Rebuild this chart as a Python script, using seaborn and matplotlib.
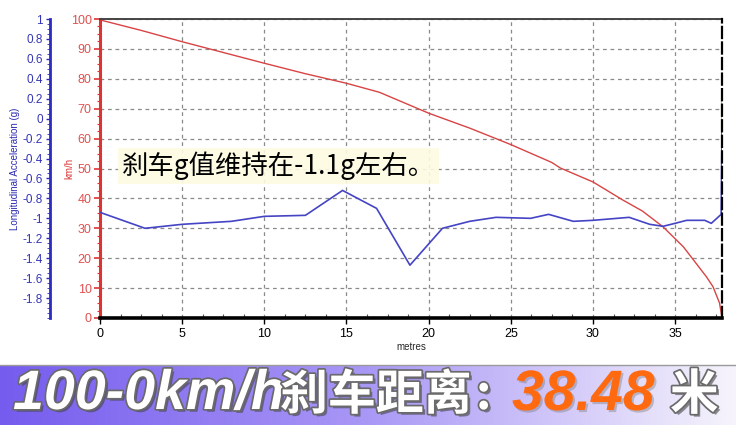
import numpy as np
import pandas as pd
import matplotlib
matplotlib.use("Agg")
import matplotlib.pyplot as plt
import matplotlib.patheffects as pe
from matplotlib.ticker import MultipleLocator, FixedLocator
import seaborn as sns

# ---------------- data ----------------
speed_dist = [0, 2.5, 5, 7.5, 10, 12.5, 15, 17, 20, 22.5, 25, 27.5, 28.0,
              30, 31.8, 33, 34.26, 35.5, 36.9, 37.3, 37.7, 37.85]
speed_kmh = [99.7, 96.2, 92.4, 88.8, 85.2, 81.7, 78.5, 75.5, 68.5, 63.5, 58.0,
             52.0, 50.2, 45.5, 39.5, 35.8, 30.5, 23.8, 13.8, 10.5, 5.0, 0.0]

accel_dist = [0, 2.74, 5, 8, 10, 12.5, 14.76, 16.83, 18.86, 20.84, 22.5, 24.1,
              26.2, 27.3, 28.8, 30, 32.2, 33.45, 34.26, 35, 35.7, 36.8, 37.2,
              37.8, 37.85]
accel_g = [-0.94, -1.10, -1.06, -1.03, -0.98, -0.97, -0.72, -0.90, -1.47, -1.10,
           -1.03, -0.99, -1.00, -0.96, -1.03, -1.02, -0.99, -1.06, -1.08, -1.05,
           -1.02, -1.02, -1.05, -0.96, -0.10]

aux_dist = [37.85, 37.85]
aux_g = [-0.10, 0.20]

x_ticks = [0, 5, 10, 15, 20, 25, 30, 35]
speed_ticks = [0, 10, 20, 30, 40, 50, 60, 70, 80, 90, 100]
accel_ticks = [1, 0.8, 0.6, 0.4, 0.2, 0, -0.2, -0.4, -0.6, -0.8, -1, -1.2,
               -1.4, -1.6, -1.8]

annotation = "刹车g值维持在-1.1g左右。"
banner_a = "100-0km/h"
banner_b = "刹车距离"
banner_c = ":"
banner_d = "38.48"
banner_e = "米"

# ---------------- style ----------------
sns.set_theme(style="white")
plt.rcParams["font.family"] = ["Liberation Sans", "Noto Sans CJK SC", "DejaVu Sans"]

W, H = 736, 425
fig = plt.figure(figsize=(W / 100, H / 100), dpi=100)
fig.patch.set_facecolor("white")

ax = fig.add_axes([100 / W, 1 - 318 / H, 622 / W, 299 / H])
ax2 = ax.twinx()

RED = "#dd3333"
BLUE = "#2b2bc0"
LINE_BLUE = "#4444c4"

df_speed = pd.DataFrame({"metres": speed_dist, "kmh": speed_kmh})
df_acc = pd.DataFrame({"metres": accel_dist, "g": accel_g})
df_aux = pd.DataFrame({"metres": aux_dist, "g": aux_g})

sns.lineplot(data=df_speed, x="metres", y="kmh", ax=ax, color="#d84444",
             linewidth=1.0, estimator=None, sort=False)
sns.lineplot(data=df_acc, x="metres", y="g", ax=ax2, color=LINE_BLUE,
             linewidth=1.2, estimator=None, sort=False)
sns.lineplot(data=df_aux, x="metres", y="g", ax=ax2, color="#b8d040",
             linewidth=1.5, estimator=None, sort=False)

# main axis (speed)
ax.set_xlim(0, 37.85)
ax.set_ylim(0, 100)
ax.xaxis.set_major_locator(FixedLocator(x_ticks))
ax.xaxis.set_minor_locator(MultipleLocator(1.25))
ax.yaxis.set_major_locator(FixedLocator(speed_ticks))
ax.yaxis.set_minor_locator(MultipleLocator(2.5))
ax.grid(True, which="major", color="#8a8a8a", linestyle=(0, (3, 3)), linewidth=0.9)
ax.tick_params(axis="x", which="major", direction="out", length=4, width=1,
               colors="black", labelsize=9, pad=3, bottom=True)
ax.tick_params(axis="x", which="minor", direction="in", length=3, width=0.8,
               colors="#555555", bottom=True)
ax.tick_params(axis="y", which="major", direction="out", length=4, width=1.2,
               colors=RED, labelsize=9, pad=2, left=True)
ax.tick_params(axis="y", which="minor", direction="out", length=2, width=0.8,
               colors=RED, left=True)
for lab in ax.get_yticklabels():
    lab.set_color("#e05050")
ax.set_xlabel("metres", fontsize=7, labelpad=2)
ax.set_ylabel("km/h", fontsize=7, color=RED)
ax.yaxis.set_label_coords(-0.042, 0.5)
ax.spines["left"].set_color(RED)
ax.spines["left"].set_linewidth(2.2)
ax.spines["bottom"].set_color("black")
ax.spines["bottom"].set_linewidth(2.6)
ax.spines["top"].set_color("#444444")
ax.spines["top"].set_linewidth(1.4)
ax.spines["right"].set_visible(False)

# acceleration axis, moved to the far left
ax2.set_ylim(-2, 1)
ax2.yaxis.tick_left()
ax2.yaxis.set_label_position("left")
ax2.spines["left"].set_position(("outward", 36))
ax2.spines["left"].set_visible(True)
ax2.spines["left"].set_color(BLUE)
ax2.spines["left"].set_linewidth(2.0)
ax2.spines["right"].set_color("black")
ax2.spines["right"].set_linewidth(1.6)
ax2.spines["right"].set_linestyle((0, (5, 2)))
ax2.spines["top"].set_visible(False)
ax2.spines["bottom"].set_visible(False)
ax2.yaxis.set_major_locator(FixedLocator(accel_ticks))
ax2.yaxis.set_minor_locator(MultipleLocator(0.05))
ax2.set_yticklabels([f"{t:g}" for t in accel_ticks])
ax2.tick_params(axis="y", which="major", direction="out", length=3, width=1,
                colors=BLUE, labelsize=8.5, pad=2, left=True, right=False)
ax2.tick_params(axis="y", which="minor", direction="out", length=2, width=0.6,
                colors=BLUE, left=True, right=False)
for lab in ax2.get_yticklabels():
    lab.set_color("#3535b5")
ax2.set_ylabel("Longitudinal Acceleration (g)", fontsize=7, color="#2a2ab0")
ax2.yaxis.set_label_coords(-0.128, 0.5)
ax2.grid(False)
ax2.set_xlabel("")

# annotation
fig.text(122 / W, 1 - 166 / H, annotation, fontsize=19, color="black",
         family=["Noto Sans CJK SC", "DejaVu Sans"], style="italic",
         ha="left", va="center",
         bbox=dict(boxstyle="square,pad=0.15", facecolor="#fdfbe2",
                   edgecolor="none", alpha=0.9))

# ---------------- banner ----------------
bax = fig.add_axes([0, 0, 1, 60 / H])
stops = np.array([[118, 92, 238], [170, 152, 246], [246, 244, 252]]) / 255.0
t = np.linspace(0, 1, 400)
grad = np.empty((1, 400, 3))
for c in range(3):
    grad[0, :, c] = np.interp(t, [0, 0.5, 1], stops[:, c])
bax.imshow(grad, aspect="auto", extent=[0, 1, 0, 1])
bax.set_xlim(0, 1)
bax.set_ylim(0, 1)
bax.axis("off")
fig.add_artist(plt.Line2D([0, 1], [60 / H, 60 / H], color="#9a9a9a",
                          linewidth=1.0, transform=fig.transFigure))

white_fx = [pe.SimplePatchShadow(offset=(2, -2), shadow_rgbFace="#444444", alpha=0.6),
            pe.withStroke(linewidth=2.5, foreground="#6a6a6a")]
orange_fx = [pe.SimplePatchShadow(offset=(1.5, -1.5), shadow_rgbFace="#777777", alpha=0.4),
             pe.Normal()]
by = 1 - 395 / H
fig.text(13 / W, by, banner_a, fontsize=40, color="white", fontweight="bold",
         style="italic", family=["Liberation Sans", "DejaVu Sans"],
         ha="left", va="center", path_effects=white_fx)
fig.text(280 / W, by, banner_b, fontsize=34.5, color="white", fontweight="heavy",
         family=["Noto Sans CJK SC", "DejaVu Sans"],
         ha="left", va="center", path_effects=white_fx)
fig.text(476 / W, by, banner_c, fontsize=34, color="white", fontweight="heavy",
         family=["Noto Sans CJK SC", "DejaVu Sans"],
         ha="left", va="center", path_effects=white_fx)
fig.text(512 / W, by, banner_d, fontsize=41, color="#ff6a10", fontweight="bold",
         style="italic", family=["Liberation Sans", "DejaVu Sans"],
         ha="left", va="center", path_effects=orange_fx)
fig.text(670 / W, by, banner_e, fontsize=35, color="white", fontweight="heavy",
         family=["Noto Sans CJK SC", "DejaVu Sans"],
         ha="left", va="center", path_effects=white_fx)

fig.savefig("out.png", dpi=100)
